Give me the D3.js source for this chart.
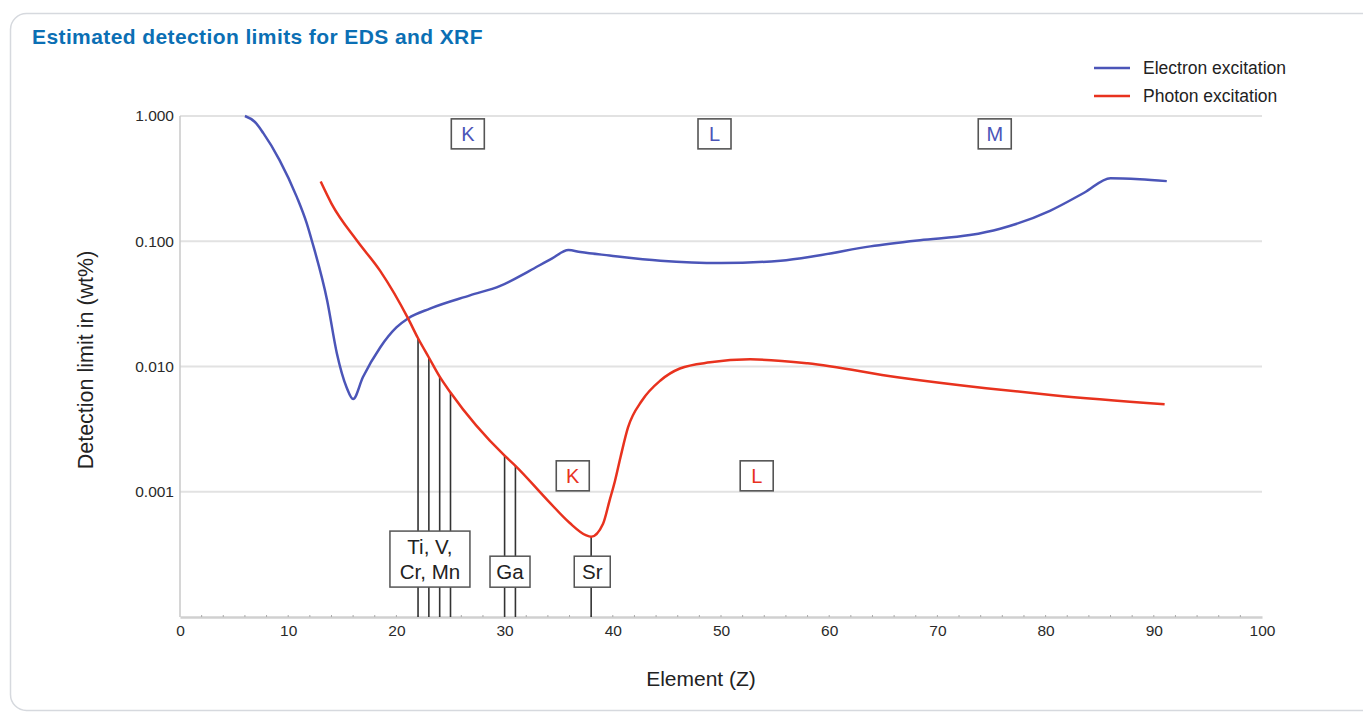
<!DOCTYPE html>
<html>
<head>
<meta charset="utf-8">
<script src="https://cdn.jsdelivr.net/npm/d3@7"></script>
<style>
  body { margin: 0; background: #fff; }
  svg { display: block; font-family: "Liberation Sans", Arial, sans-serif; }
</style>
</head>
<body>
<svg class="chart"></svg>
<script>
// データ
var electronZ  = [6, 6.9, 7.7, 9.2, 10.8, 11.7, 12.2, 13.6, 14.5, 15.4, 16, 16.9, 18.5, 20, 21.1, 23.1, 26.8, 29.6, 32.3, 34.4, 35.9, 37, 39.7, 44.4, 50, 55.5, 59, 63.8, 68.4, 73, 75.8, 80.4, 83.6, 86, 88.7, 91.2];
var electronDL = [1.0, 0.9, 0.73, 0.445, 0.225, 0.14, 0.10, 0.0337, 0.0127, 0.0068, 0.0055, 0.0082, 0.0142, 0.0205, 0.0243, 0.029, 0.037, 0.044, 0.058, 0.073, 0.085, 0.082, 0.077, 0.070, 0.067, 0.070, 0.077, 0.091, 0.102, 0.112, 0.126, 0.175, 0.245, 0.319, 0.313, 0.302];

var photonZ  = [13, 14, 16.4, 18.5, 21.1, 22, 23, 24, 25, 30, 31, 34, 36, 37.5, 38, 39.1, 39.7, 40.2, 40.7, 41.4, 42.7, 44.4, 46.2, 49, 52.7, 58, 66.3, 74.5, 80.7, 91];
var photonDL = [0.30, 0.20, 0.10, 0.058, 0.024, 0.0168, 0.0118, 0.0083, 0.0062, 0.00194, 0.00161, 0.00085, 0.000565, 0.00045, 0.000437, 0.000555, 0.00085, 0.00122, 0.00187, 0.00325, 0.00535, 0.00773, 0.00964, 0.0108, 0.0114, 0.0106, 0.0082, 0.0067, 0.0059, 0.0050];

// 縦線 (元素) : Z と線の上端
var markerZ   = [22, 23, 24, 25, 30, 31, 38];
var markerTop = [0.0168, 0.0118, 0.0083, 0.0062, 0.00194, 0.00161, 0.000437];

// 元素名ラベル
var elementLabels = [["Ti, V,", "Cr, Mn"], ["Ga"], ["Sr"]];
var elementLabelZ = [23.1, 30.5, 38.1];
var elementLabelV = [0.00029, 0.00023, 0.00023];

// 殻ラベル (K, L, M)
var shellLabels = ["K", "L", "M", "K", "L"];
var shellSeries = ["electron", "electron", "electron", "photon", "photon"];
var shellZ = [26.6, 49.4, 75.3, 36.3, 53.3];
var shellV = [0.72, 0.72, 0.72, 0.00134, 0.00134];

var xTicks = [0, 10, 20, 30, 40, 50, 60, 70, 80, 90, 100];
var yTicks = [1, 0.1, 0.01, 0.001];
var yTickLabels = ["1.000", "0.100", "0.010", "0.001"];

var seriesNames = ["Electron excitation", "Photon excitation"];
var colors = {electron: "#4b55b8", photon: "#e8321e"};

// 各種サイズ
var W = 1363, H = 714;
var plot = {left: 180, right: 1262, top: 116, bottom: 617};

var svg = d3.select("svg.chart")
    .attr("width", W)
    .attr("height", H);

// カード枠
svg.append("rect")
    .attr("x", 10.5).attr("y", 13.5)
    .attr("width", 1380).attr("height", 697)
    .attr("rx", 16)
    .attr("fill", "#fff")
    .attr("stroke", "#d6d9de")
    .attr("stroke-width", 1.5);

// タイトル
svg.append("text")
    .attr("x", 32).attr("y", 44)
    .attr("fill", "#0b6fb4")
    .attr("font-size", 21)
    .attr("font-weight", "bold")
    .attr("letter-spacing", 0.4)
    .text("Estimated detection limits for EDS and XRF");

var x = d3.scaleLinear().domain([0, 100]).range([plot.left, plot.right]);
var y = d3.scaleLog().domain([0.0001, 1]).range([plot.bottom, plot.top]);

// グリッド線
svg.append("g").selectAll("line")
    .data(yTicks)
    .enter().append("line")
    .attr("x1", plot.left).attr("x2", plot.right)
    .attr("y1", function(d) { return y(d); })
    .attr("y2", function(d) { return y(d); })
    .attr("stroke", "#e2e2e2")
    .attr("stroke-width", 2);

// Y軸ラベル
svg.append("g").selectAll("text")
    .data(yTicks)
    .enter().append("text")
    .attr("x", 174)
    .attr("y", function(d) { return y(d); })
    .attr("dy", "0.35em")
    .attr("text-anchor", "end")
    .attr("font-size", 15.5)
    .attr("fill", "#2a2a2a")
    .text(function(d, i) { return yTickLabels[i]; });

// 軸線
svg.append("line")
    .attr("x1", plot.left).attr("x2", plot.left)
    .attr("y1", plot.top).attr("y2", plot.bottom)
    .attr("stroke", "#c8c8c8").attr("stroke-width", 1.5);

// X軸
var xAxis = svg.append("g")
    .attr("transform", "translate(0," + plot.bottom + ")")
    .call(d3.axisBottom(x).tickValues(xTicks).tickSize(0).tickPadding(8));
xAxis.select(".domain").attr("stroke", "#d0d0d0").attr("stroke-width", 2.5);
xAxis.selectAll("text").attr("font-size", 15.5).attr("fill", "#2a2a2a")
    .attr("font-family", "\"Liberation Sans\", Arial, sans-serif");

// 小さい目盛り (2ごと)
svg.append("g").selectAll("line")
    .data(d3.range(2, 100, 2))
    .enter().append("line")
    .attr("x1", function(d) { return x(d); })
    .attr("x2", function(d) { return x(d); })
    .attr("y1", plot.bottom - 2).attr("y2", plot.bottom)
    .attr("stroke", "#aaa").attr("stroke-width", 1);

// 軸タイトル
svg.append("text")
    .attr("x", 701).attr("y", 686)
    .attr("text-anchor", "middle")
    .attr("font-size", 21)
    .attr("fill", "#222")
    .text("Element (Z)");

svg.append("text")
    .attr("transform", "translate(93,360) rotate(-90)")
    .attr("text-anchor", "middle")
    .attr("font-size", 21.5)
    .attr("fill", "#222")
    .text("Detection limit in (wt%)");

// 元素の縦線
svg.append("g").selectAll("line")
    .data(markerZ)
    .enter().append("line")
    .attr("x1", function(d) { return x(d); })
    .attr("x2", function(d) { return x(d); })
    .attr("y1", function(d, i) { return y(markerTop[i]); })
    .attr("y2", plot.bottom)
    .attr("stroke", "#333")
    .attr("stroke-width", 1.6);

// 曲線
var line = d3.line()
    .x(function(d) { return x(d[0]); })
    .y(function(d) { return y(d[1]); })
    .curve(d3.curveMonotoneX);

svg.append("path")
    .datum(d3.zip(electronZ, electronDL))
    .attr("d", line)
    .attr("fill", "none")
    .attr("stroke", colors.electron)
    .attr("stroke-width", 2.5);

svg.append("path")
    .datum(d3.zip(photonZ, photonDL))
    .attr("d", line)
    .attr("fill", "none")
    .attr("stroke", colors.photon)
    .attr("stroke-width", 2.5);

// 元素名の箱
var boxW = [80, 40, 36], boxH = [56, 31, 31];
elementLabels.forEach(function(lines, i) {
    var cx = x(elementLabelZ[i]), cy = y(elementLabelV[i]);
    var g = svg.append("g");
    g.append("rect")
        .attr("x", cx - boxW[i] / 2).attr("y", cy - boxH[i] / 2)
        .attr("width", boxW[i]).attr("height", boxH[i])
        .attr("fill", "#fff")
        .attr("stroke", "#555")
        .attr("stroke-width", 1.5);
    lines.forEach(function(t, j) {
        g.append("text")
            .attr("x", cx)
            .attr("y", cy + (j - (lines.length - 1) / 2) * 25)
            .attr("dy", "0.36em")
            .attr("text-anchor", "middle")
            .attr("font-size", 20.5)
            .attr("fill", "#222")
            .text(t);
    });
});

// 殻ラベル K, L, M
shellLabels.forEach(function(t, i) {
    var cx = x(shellZ[i]), cy = y(shellV[i]);
    svg.append("rect")
        .attr("x", cx - 16.5).attr("y", cy - 15)
        .attr("width", 33).attr("height", 30)
        .attr("fill", "#fff")
        .attr("stroke", "#555")
        .attr("stroke-width", 1.6);
    svg.append("text")
        .attr("x", cx).attr("y", cy)
        .attr("dy", "0.36em")
        .attr("text-anchor", "middle")
        .attr("font-size", 20)
        .attr("fill", colors[shellSeries[i]])
        .text(t);
});

// 凡例
var legend = svg.append("g").selectAll("g")
    .data(seriesNames)
    .enter().append("g")
    .attr("transform", function(d, i) { return "translate(1094," + (68 + i * 28) + ")"; });
legend.append("line")
    .attr("x1", 0).attr("x2", 36)
    .attr("stroke", function(d, i) { return i == 0 ? colors.electron : colors.photon; })
    .attr("stroke-width", 2.5);
legend.append("text")
    .attr("x", 49).attr("dy", "0.35em")
    .attr("font-size", 17.5)
    .attr("fill", "#222")
    .text(function(d) { return d; });
</script>
</body>
</html>
